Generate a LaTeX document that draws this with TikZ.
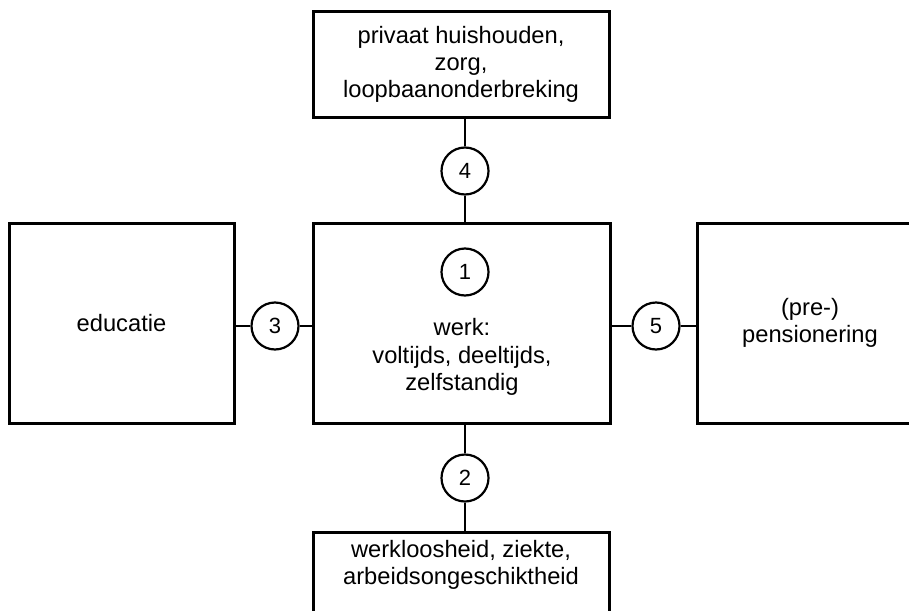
\documentclass[tikz,border=0pt]{standalone}
\usepackage{fontspec}
\setmainfont{Liberation Sans}
\begin{document}
\begin{tikzpicture}[x=1pt,y=-1pt,
  box/.style={draw=black,line width=3pt,rectangle,inner sep=0pt,align=center,
    font=\fontsize{23.7}{27}\selectfont},
  lbl/.style={inner sep=0pt,align=center,font=\fontsize{23.7}{27.5}\selectfont},
  num/.style={draw=black,line width=2.2pt,circle,minimum size=47pt,inner sep=0pt,
    font=\fontsize{22}{24}\selectfont},
  link/.style={line width=2.6pt}]
\useasboundingbox (0,0) rectangle (909,610);

% boxes
\node[box,minimum width=296pt,minimum height=105pt] (care) at (461,64.5)
  {privaat huishouden,\\zorg,\\loopbaanonderbreking};
\node[box,minimum width=297pt,minimum height=200pt] (work) at (461.5,323) {};
\node[box,minimum width=225pt,minimum height=200pt] (edu) at (121.5,323) {educatie};
\node[box,minimum width=226pt,minimum height=200pt] (pens) at (810,323)
  {(pre-)\\pensionering};
\node[box,minimum width=296pt,minimum height=96pt] (unemp) at (461,580)
  {werkloosheid, ziekte,\\arbeidsongeschiktheid\\\strut};

% text inside the central box
\node[lbl] (worktext) at (462,357) {werk:\\voltijds, deeltijds,\\zelfstandig};

% numbered circles
\node[num] (n1) at (465,272) {1};
\node[num] (n2) at (465,478) {2};
\node[num] (n3) at (275,326) {3};
\node[num] (n4) at (465,171) {4};
\node[num] (n5) at (656,326) {5};

% connectors
\draw[link] (n4.north) -- (n4.north |- care.south);
\draw[link] (n4.south) -- (n4.south |- work.north);
\draw[link] (n2.north) -- (n2.north |- work.south);
\draw[link] (n2.south) -- (n2.south |- unemp.north);
\draw[link] (n3.west) -- (n3.west -| edu.east);
\draw[link] (n3.east) -- (n3.east -| work.west);
\draw[link] (n5.west) -- (n5.west -| work.east);
\draw[link] (n5.east) -- (n5.east -| pens.west);
\end{tikzpicture}
\end{document}
